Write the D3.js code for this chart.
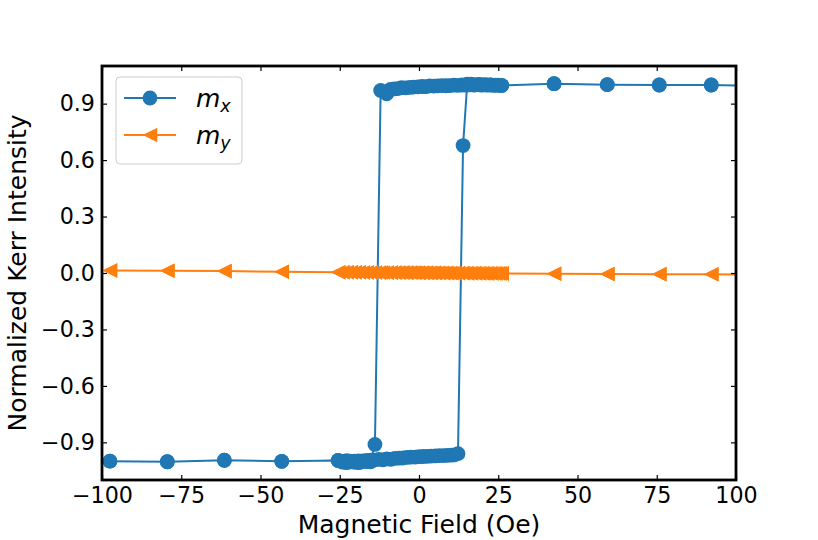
<!DOCTYPE html>
<html>
<head>
<meta charset="utf-8">
<script src="https://cdn.jsdelivr.net/npm/d3@7"></script>
<style>
  body { margin: 0; background: #fff; }
  svg { display: block; font-family: "DejaVu Sans", sans-serif; }
</style>
</head>
<body>
<svg id="chart" width="818" height="540"></svg>
<script>
// sweep from positive to negative field
const fieldDown = [
  108.7, 92.2, 75.8, 59.4, 42.6, 26.1,
  24.9, 23.6, 22.4, 21.1, 19.8, 18.6, 17.3, 16.1, 14.8, 13.5,
  12.3, 11.0, 9.7, 8.5, 7.2, 5.9, 4.7, 3.4, 2.1, 0.9,
  -0.4, -1.7, -2.9, -4.2, -5.5, -6.7, -7.9, -9.0, -10.2, -12.1,
  -13.9,
  -15.2, -16.5, -17.7, -19.0, -20.3, -21.5, -22.8, -24.1, -25.5,
  -43.3, -61.4, -79.4, -97.5
];
const mxDown = [
  0.993, 0.999, 0.999, 1.001, 1.006, 0.997,
  0.998, 0.997, 0.999, 1.000, 0.998, 1.001, 0.999, 1.000, 0.998, 0.999,
  0.997, 0.998, 0.996, 0.995, 0.996, 0.994, 0.993, 0.994, 0.990, 0.991,
  0.989, 0.988, 0.986, 0.984, 0.985, 0.980, 0.978, 0.975, 0.952, 0.970,
  -0.911,
  -0.995, -1.002, -0.998, -1.008, -1.000, -1.004, -0.997, -1.001, -0.996,
  -1.001, -0.995, -1.003, -1.000
];
const myDown = [
  -0.010, -0.007, -0.006, -0.005, -0.004, -0.002,
  -0.002, -0.002, -0.001, -0.002, -0.001, -0.001, 0.000, -0.001, 0.000, 0.000,
  0.000, 0.001, 0.000, 0.001, 0.001, 0.001, 0.002, 0.001, 0.002, 0.002,
  0.002, 0.002, 0.003, 0.002, 0.003, 0.003, 0.003, 0.003, 0.003, 0.003,
  0.003,
  0.003, 0.004, 0.003, 0.004, 0.004, 0.004, 0.004, 0.004, 0.004,
  0.007, 0.010, 0.012, 0.013
];

// sweep back from negative to positive field
const fieldUp = [
  -97.5, -79.4, -61.4, -43.3, -25.5,
  -24.2, -22.9, -21.6, -20.4, -19.1, -17.8, -16.5, -15.3, -14.0, -12.7,
  -11.4, -10.2, -8.9, -7.6, -6.3, -5.1, -3.8, -2.5, -1.2, 0.0,
  1.3, 2.6, 3.8, 5.1, 6.4, 7.7, 8.9, 10.2, 11.2, 12.3,
  13.9,
  15.2, 16.4, 17.7, 19.0, 20.3, 21.5, 22.8, 24.1, 25.4,
  26.1, 42.6, 59.4, 75.8, 92.2, 108.7
];
const mxUp = [
  -1.000, -1.003, -0.995, -1.001, -0.996,
  -1.005, -1.008, -1.000, -1.006, -0.998, -1.002, -0.996, -1.003, -0.994, -0.990,
  -0.993, -0.988, -0.990, -0.985, -0.984, -0.983, -0.980, -0.978, -0.978, -0.976,
  -0.975, -0.974, -0.973, -0.972, -0.971, -0.970, -0.969, -0.968, -0.966, -0.960,
  0.677,
  1.003, 1.004, 1.000, 1.002, 1.001, 0.999, 1.000, 0.998, 0.997,
  0.996, 1.006, 1.001, 0.999, 0.999, 0.993
];
const myUp = [
  0.013, 0.012, 0.010, 0.007, 0.004,
  0.004, 0.004, 0.004, 0.003, 0.004, 0.003, 0.003, 0.003, 0.003, 0.002,
  0.003, 0.002, 0.002, 0.002, 0.001, 0.002, 0.001, 0.001, 0.001, 0.000,
  0.000, 0.000, 0.000, -0.001, 0.000, -0.001, -0.001, -0.001, -0.002, -0.001,
  -0.001,
  -0.002, -0.001, -0.002, -0.002, -0.002, -0.002, -0.002, -0.002, -0.002,
  -0.002, -0.004, -0.005, -0.006, -0.007, -0.010
];

const xTicks = [-100, -75, -50, -25, 0, 25, 50, 75, 100];
const yTicks = [-0.9, -0.6, -0.3, 0.0, 0.3, 0.6, 0.9];

const blue = "#1f77b4";
const orange = "#ff7f0e";

const margin = { left: 102, right: 82, top: 66, bottom: 60 };
const width = 818, height = 540;
const svg = d3.select("#chart");

const x = d3.scaleLinear().domain([-100, 100]).range([margin.left, width - margin.right]);
const y = d3.scaleLinear().domain([-1.1, 1.1]).range([height - margin.bottom, margin.top]);

svg.append("clipPath").attr("id", "plot-clip")
  .append("rect")
  .attr("x", x(-100)).attr("y", y(1.1))
  .attr("width", x(100) - x(-100)).attr("height", y(-1.1) - y(1.1));

// build the full loop for each component
const loop = (vals1, vals2) =>
  fieldDown.map((f, i) => [f, vals1[i]]).concat(fieldUp.map((f, i) => [f, vals2[i]]));
const mxLoop = loop(mxDown, mxUp);
const myLoop = loop(myDown, myUp);

const line = d3.line().x(d => x(d[0])).y(d => y(d[1]));
const plot = svg.append("g").attr("clip-path", "url(#plot-clip)");

const circleR = 7.4;
const triH = 7.3;
const triPath = (cx, cy) =>
  `M${cx - triH},${cy} L${cx + triH},${cy - triH} L${cx + triH},${cy + triH} Z`;

// m_x
plot.append("path").datum(mxLoop)
  .attr("d", line).attr("fill", "none")
  .attr("stroke", blue).attr("stroke-width", 2);
plot.append("g").selectAll("circle").data(mxLoop).enter()
  .append("circle")
  .attr("cx", d => x(d[0])).attr("cy", d => y(d[1]))
  .attr("r", circleR).attr("fill", blue);

// m_y
plot.append("path").datum(myLoop)
  .attr("d", line).attr("fill", "none")
  .attr("stroke", orange).attr("stroke-width", 2);
plot.append("g").selectAll("path").data(myLoop).enter()
  .append("path")
  .attr("d", d => triPath(x(d[0]), y(d[1])))
  .attr("fill", orange);

// axes, ticks pointing inward on all four sides
const fmtX = d3.format("d");
const fmtY = d3.format(".1f");

function styleAxis(g) {
  g.select(".domain").remove();
  g.selectAll(".tick line").attr("stroke", "#000").attr("stroke-width", 1.2);
  g.selectAll(".tick text").attr("fill", "#000").attr("font-size", 22.2)
    .attr("font-family", "DejaVu Sans, sans-serif");
}

svg.append("g").attr("transform", `translate(0,${y(-1.1)})`)
  .call(d3.axisBottom(x).tickValues(xTicks).tickFormat(fmtX).tickSize(-5).tickPadding(7))
  .call(styleAxis);
svg.append("g").attr("transform", `translate(0,${y(1.1)})`)
  .call(d3.axisTop(x).tickValues(xTicks).tickFormat("").tickSize(-5))
  .call(styleAxis);
svg.append("g").attr("transform", `translate(${x(-100)},0)`)
  .call(d3.axisLeft(y).tickValues(yTicks).tickFormat(fmtY).tickSize(-5).tickPadding(7))
  .call(styleAxis);
svg.append("g").attr("transform", `translate(${x(100)},0)`)
  .call(d3.axisRight(y).tickValues(yTicks).tickFormat("").tickSize(-5))
  .call(styleAxis);

// frame
svg.append("rect")
  .attr("x", x(-100)).attr("y", y(1.1))
  .attr("width", x(100) - x(-100)).attr("height", y(-1.1) - y(1.1))
  .attr("fill", "none").attr("stroke", "#000").attr("stroke-width", 2.8);

// axis labels
svg.append("text")
  .attr("x", (x(-100) + x(100)) / 2).attr("y", 533)
  .attr("text-anchor", "middle").attr("font-size", 25)
  .text("Magnetic Field (Oe)");
svg.append("text")
  .attr("transform", `translate(26,${(y(1.1) + y(-1.1)) / 2}) rotate(-90)`)
  .attr("text-anchor", "middle").attr("font-size", 25)
  .text("Normalized Kerr Intensity");

// legend
const legend = svg.append("g");
legend.append("rect")
  .attr("x", 116).attr("y", 77).attr("width", 126).attr("height", 87)
  .attr("rx", 4).attr("fill", "#fff").attr("fill-opacity", 0.8)
  .attr("stroke", "#cccccc").attr("stroke-width", 1);

const legendItems = [
  { sub: "x", color: blue, marker: "circle", yy: 98 },
  { sub: "y", color: orange, marker: "tri", yy: 135 }
];
legendItems.forEach(it => {
  legend.append("line")
    .attr("x1", 124).attr("x2", 176).attr("y1", it.yy).attr("y2", it.yy)
    .attr("stroke", it.color).attr("stroke-width", 2);
  if (it.marker === "circle") {
    legend.append("circle").attr("cx", 150).attr("cy", it.yy).attr("r", circleR).attr("fill", it.color);
  } else {
    legend.append("path").attr("d", triPath(150, it.yy)).attr("fill", it.color);
  }
  const t = legend.append("text")
    .attr("x", 196).attr("y", it.yy + 8.5)
    .attr("font-size", 25).attr("font-style", "italic");
  t.append("tspan").text("m");
  t.append("tspan").attr("font-size", 17.5).attr("dy", 5).text(it.sub);
});
</script>
</body>
</html>
